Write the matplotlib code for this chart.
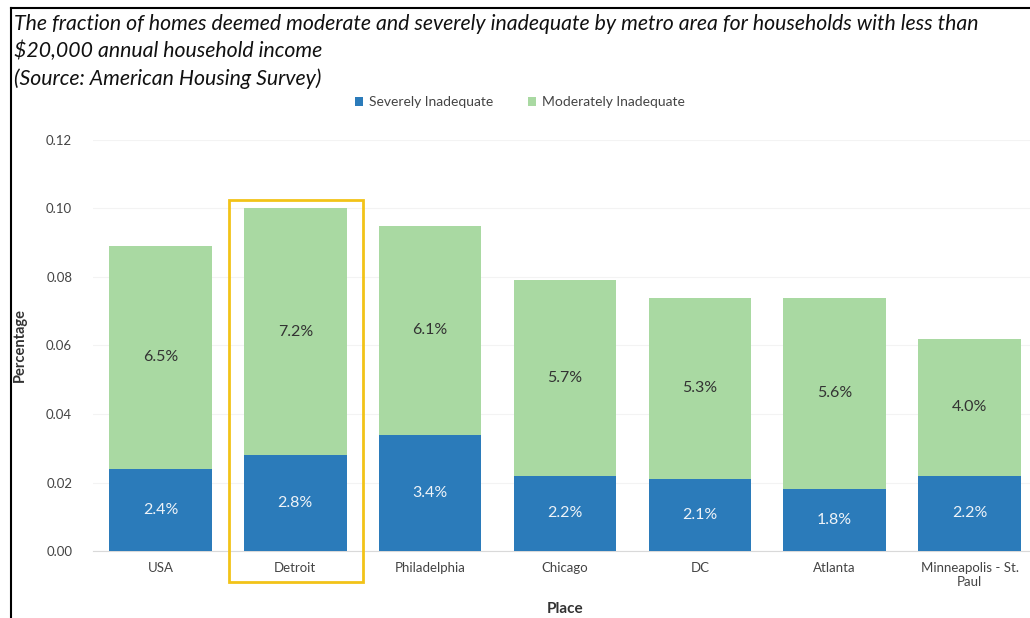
import matplotlib.pyplot as plt
import numpy as np
from matplotlib.patches import Rectangle
from matplotlib.lines import Line2D

# Data
places = ['USA', 'Detroit', 'Philadelphia', 'Chicago', 'DC', 'Atlanta', 'Minneapolis - St.\nPaul']
severe = [0.024, 0.028, 0.034, 0.022, 0.021, 0.018, 0.022]
moderate = [0.065, 0.072, 0.061, 0.057, 0.053, 0.056, 0.040]
y_ticks = [0.00, 0.02, 0.04, 0.06, 0.08, 0.10, 0.12]
highlight = 'Detroit'

plt.rcParams['font.family'] = ['Lato', 'DejaVu Sans']

blue = '#2b7bba'
green = '#a9d9a2'

fig = plt.figure(figsize=(10.3, 6.18), dpi=100)
fig.patch.set_facecolor('white')
ax = fig.add_axes([0.0903, 0.1084, 0.9165, 0.6651])

x = np.arange(len(places))
severe = np.array(severe)
moderate = np.array(moderate)

ax.bar(x, severe, width=0.76, color=blue, label='Severely Inadequate', zorder=3)
ax.bar(x, moderate, width=0.76, bottom=severe, color=green,
       label='Moderately Inadequate', zorder=3)

# Value labels centred in each segment
for i in range(len(places)):
    ax.text(x[i], severe[i] / 2, f'{severe[i]*100:.1f}%', ha='center', va='center',
            fontsize=11.5, color='#eef3f8', zorder=4)
    ax.text(x[i], severe[i] + moderate[i] / 2, f'{moderate[i]*100:.1f}%', ha='center',
            va='center', fontsize=11.5, color='#333333', zorder=4)

# Yellow highlight box around Detroit
hi = places.index(highlight)
ax.add_patch(Rectangle((hi - 0.49, -0.009), 0.99, 0.1115, fill=False,
                       edgecolor='#f2c318', linewidth=2, clip_on=False, zorder=5))

ax.set_xlim(-0.5, len(places) - 0.5)
ax.set_ylim(0, 0.12)
ax.set_yticks(y_ticks)
ax.set_yticklabels([f'{t:.2f}' for t in y_ticks])
ax.set_xticks(x)
ax.set_xticklabels(places)
ax.tick_params(axis='both', length=0, labelsize=9.5, labelcolor='#444444')
ax.tick_params(axis='y', pad=15)
ax.tick_params(axis='x', pad=8)

for s in ['top', 'right', 'left']:
    ax.spines[s].set_visible(False)
ax.spines['bottom'].set_color('#d9d9d9')
ax.grid(axis='y', color='#f3f3f3', linewidth=0.8, zorder=0)
ax.set_axisbelow(True)

ax.set_ylabel('Percentage', fontsize=10.5, fontweight='bold', color='#333333', labelpad=14)
ax.set_xlabel('Place', fontsize=11, fontweight='bold', color='#333333', labelpad=10)

ax.legend(loc='upper center', bbox_to_anchor=(0.452, 1.137), ncol=2, frameon=False,
          fontsize=10, handlelength=0.6, handleheight=0.6, columnspacing=2.5,
          handletextpad=0.4, labelcolor='#444444')

# Title text
fig.text(0.014, 0.978, 'The fraction of homes deemed moderate and severely inadequate by metro area for households with less than\n'
         '$20,000 annual household income\n(Source: American Housing Survey)',
         ha='left', va='top', fontsize=15.3, style='italic', color='#111111', linespacing=1.45)

# Frame lines (left and top)
fig.add_artist(Line2D([0.011, 0.011], [0.0, 0.987], transform=fig.transFigure, color='black', linewidth=1.5))
fig.add_artist(Line2D([0.011, 1.0], [0.987, 0.987], transform=fig.transFigure, color='black', linewidth=1.5))

plt.savefig('out.png', dpi=100, facecolor='white')
